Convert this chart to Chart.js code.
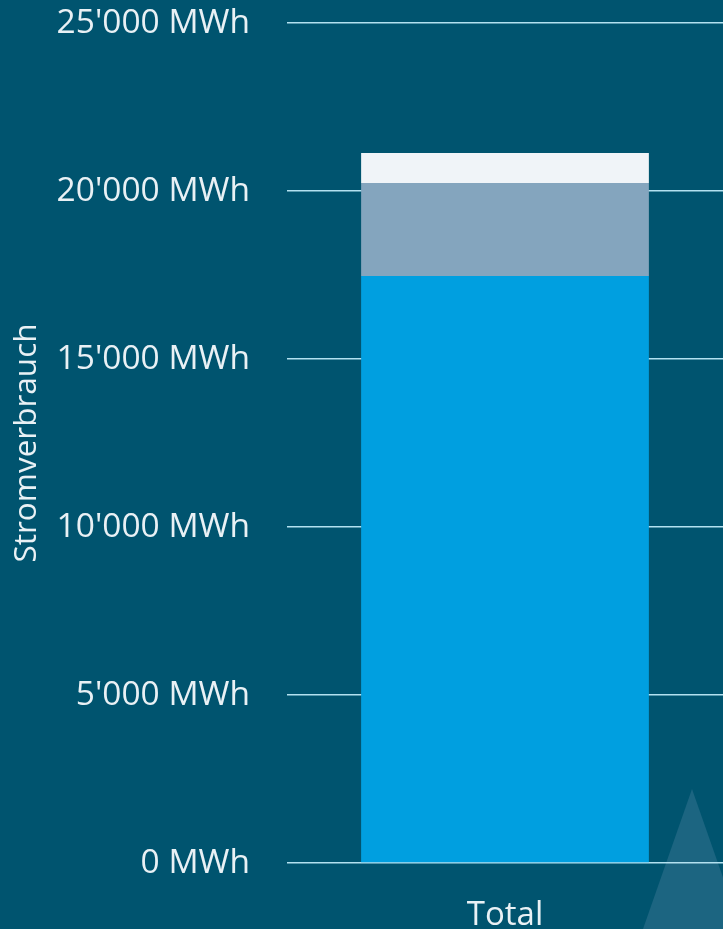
<!DOCTYPE html>
<html>
<head>
<meta charset="utf-8">
<script src="https://cdn.jsdelivr.net/npm/chart.js@4/dist/chart.umd.min.js"></script>
<style>
  html, body { margin: 0; padding: 0; background: #00546f; }
  #wrap { width: 723px; height: 929px; }
</style>
</head>
<body>
<div id="wrap"><canvas id="chart"></canvas></div>
<script>
// Data (MWh)
const categories = ['Total'];
const seriesNames = ['Anteil A', 'Anteil B', 'Anteil C'];
const seriesA = [17470];
const seriesB = [2770];
const seriesC = [890];
const yTicks = [0, 5000, 10000, 15000, 20000, 25000];
const axisTitle = 'Stromverbrauch';
const unit = 'MWh';

const colors = ['#009fe0', '#84a5be', '#f0f4f8'];
const textColor = '#e9f1f5';
const fontFamily = '"Open Sans", "DejaVu Sans", sans-serif';

// background + faint triangle watermark
const backdrop = {
  id: 'backdrop',
  beforeDraw(chart) {
    const ctx = chart.ctx;
    ctx.save();
    ctx.fillStyle = '#00546f';
    ctx.fillRect(0, 0, chart.width, chart.height);
    ctx.fillStyle = '#1c6581';
    ctx.beginPath();
    ctx.moveTo(692, 789);
    ctx.lineTo(741, 929);
    ctx.lineTo(643, 929);
    ctx.closePath();
    ctx.fill();
    ctx.restore();
  }
};

function fmt(v) {
  return String(v).replace(/\B(?=(\d{3})+(?!\d))/g, "'") + ' ' + unit;
}

new Chart(document.getElementById('chart'), {
  type: 'bar',
  data: {
    labels: categories,
    datasets: [seriesA, seriesB, seriesC].map((d, i) => ({
      label: seriesNames[i],
      data: d,
      backgroundColor: colors[i],
      borderWidth: 0,
      categoryPercentage: 1,
      barPercentage: 0.66
    }))
  },
  options: {
    responsive: true,
    maintainAspectRatio: false,
    animation: false,
    layout: { padding: { top: 23, left: 8, right: 0, bottom: 2 } },
    plugins: {
      legend: { display: false },
      tooltip: { enabled: false }
    },
    scales: {
      x: {
        stacked: true,
        afterFit(axis) {
          axis.height = 64;
        },
        grid: { display: false },
        border: { display: false },
        ticks: {
          color: textColor,
          font: { family: fontFamily, size: 33 },
          padding: 25
        }
      },
      y: {
        stacked: true,
        min: 0,
        max: 25000,
        afterBuildTicks(axis) {
          axis.ticks = yTicks.map(v => ({ value: v }));
        },
        afterFit(axis) {
          axis.width = 287 - 8;
        },
        grid: {
          color: '#b3e1f0',
          lineWidth: 1.5,
          drawTicks: true,
          tickLength: 37,
          tickColor: 'rgba(0,0,0,0)'
        },
        border: { display: false },
        ticks: {
          color: textColor,
          font: { family: fontFamily, size: 33.5 },
          padding: 0,
          callback: v => fmt(v)
        },
        title: {
          display: true,
          text: axisTitle,
          color: textColor,
          font: { family: fontFamily, size: 31.5 },
          padding: { top: 0, bottom: 10 }
        }
      }
    }
  },
  plugins: [backdrop]
});
</script>
</body>
</html>
